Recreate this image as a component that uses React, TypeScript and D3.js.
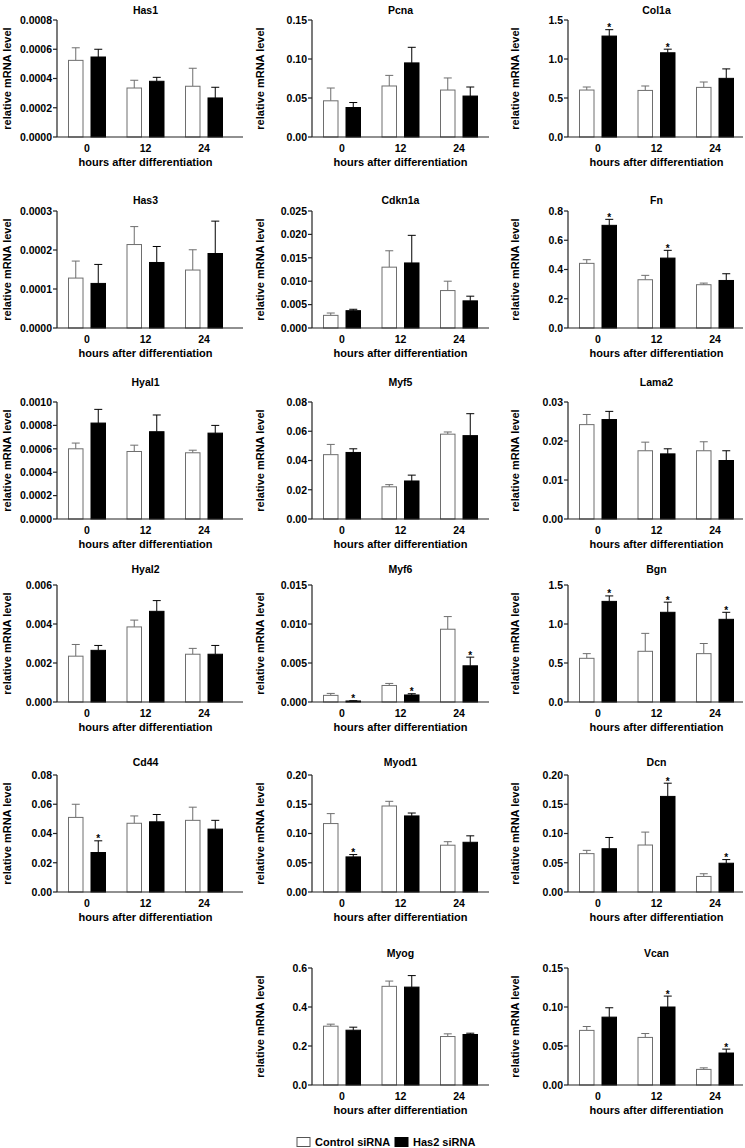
import React from "react";
import * as d3 from "d3";

const timepoints = ["0", "12", "24"];
const genes = ["Has1", "Pcna", "Col1a", "Has3", "Cdkn1a", "Fn", "Hyal1", "Myf5", "Lama2", "Hyal2", "Myf6", "Bgn", "Cd44", "Myod1", "Dcn", "Myog", "Vcan"];
const yMaxes = [0.0008, 0.15, 1.5, 0.0003, 0.025, 0.8, 0.001, 0.08, 0.03, 0.006, 0.015, 1.5, 0.08, 0.2, 0.2, 0.6, 0.15];
const yTickSteps = [0.0002, 0.05, 0.5, 0.0001, 0.005, 0.2, 0.0002, 0.02, 0.01, 0.002, 0.005, 0.5, 0.02, 0.05, 0.05, 0.2, 0.05];
const tickDecimals = [4, 2, 1, 4, 3, 1, 4, 2, 2, 3, 3, 1, 2, 2, 2, 1, 2];

const controlMean = [
  [0.000524, 0.000335, 0.000347],
  [0.0464, 0.0654, 0.0602],
  [0.602, 0.597, 0.636],
  [0.000128, 0.000214, 0.0001486],
  [0.0027, 0.013, 0.008],
  [0.442, 0.33, 0.296],
  [0.0006, 0.000577, 0.000566],
  [0.044, 0.022, 0.058],
  [0.0242, 0.0175, 0.0175],
  [0.00235, 0.00385, 0.00245],
  [0.00085, 0.00212, 0.00933],
  [0.56, 0.65, 0.62],
  [0.051, 0.047, 0.049],
  [0.117, 0.147, 0.08],
  [0.0656, 0.0803, 0.0266],
  [0.3016, 0.506, 0.2486],
  [0.07, 0.061, 0.02],
];
const controlSem = [
  [0.000086, 0.000053, 0.000123],
  [0.0164, 0.0136, 0.0155],
  [0.039, 0.057, 0.069],
  [0.0000436, 0.000046, 0.000052],
  [0.0005, 0.0035, 0.002],
  [0.025, 0.03, 0.011],
  [0.000049, 0.000054, 0.000022],
  [0.007, 0.0015, 0.0015],
  [0.0026, 0.0022, 0.0023],
  [0.0006, 0.00035, 0.0003],
  [0.00025, 0.00026, 0.00162],
  [0.06, 0.23, 0.13],
  [0.009, 0.005, 0.009],
  [0.017, 0.008, 0.006],
  [0.0056, 0.0221, 0.0046],
  [0.0104, 0.027, 0.0138],
  [0.005, 0.005, 0.002],
];
const has2Mean = [
  [0.000547, 0.000381, 0.000267],
  [0.0378, 0.095, 0.0525],
  [1.294, 1.08, 0.752],
  [0.0001143, 0.000168, 0.000191],
  [0.0037, 0.0139, 0.0058],
  [0.702, 0.478, 0.325],
  [0.00082, 0.000746, 0.000734],
  [0.0455, 0.026, 0.057],
  [0.0255, 0.0167, 0.015],
  [0.00265, 0.00465, 0.00245],
  [0.00013, 0.0009, 0.00464],
  [1.29, 1.15, 1.06],
  [0.027, 0.048, 0.043],
  [0.06, 0.13, 0.085],
  [0.074, 0.1634, 0.0492],
  [0.281, 0.502, 0.259],
  [0.087, 0.1, 0.041],
];
const has2Sem = [
  [0.000053, 0.000027, 0.000073],
  [0.0064, 0.02, 0.0116],
  [0.082, 0.046, 0.121],
  [0.0000487, 0.000041, 0.000083],
  [0.0003, 0.0059, 0.001],
  [0.041, 0.053, 0.046],
  [0.000117, 0.000143, 0.000066],
  [0.0025, 0.004, 0.015],
  [0.0021, 0.0013, 0.0025],
  [0.00025, 0.00055, 0.00045],
  [0.00003, 0.00016, 0.00111],
  [0.07, 0.13, 0.09],
  [0.008, 0.005, 0.006],
  [0.004, 0.005, 0.011],
  [0.0192, 0.0226, 0.0062],
  [0.0155, 0.059, 0.0066],
  [0.012, 0.014, 0.005],
];
const significant = [
  [false, false, false],
  [false, false, false],
  [true, true, false],
  [false, false, false],
  [false, false, false],
  [true, true, false],
  [false, false, false],
  [false, false, false],
  [false, false, false],
  [false, false, false],
  [true, true, true],
  [true, true, true],
  [true, false, false],
  [true, false, false],
  [false, true, true],
  [false, false, false],
  [false, true, true],
];
const legendLabels = ["Control siRNA", "Has2 siRNA"];
const xAxisTitle = "hours after differentiation";
const yAxisTitle = "relative mRNA level";

// layout
const W = 745;
const H = 1148;
const panelRow = [0, 0, 0, 1, 1, 1, 2, 2, 2, 3, 3, 3, 4, 4, 4, 5, 5];
const panelCol = [0, 1, 2, 0, 1, 2, 0, 1, 2, 0, 1, 2, 0, 1, 2, 1, 2];
const colAxisX = [57, 312, 568];
const colAxisEnd = [243, 489, 743];
const colLabelX = [7, 260, 515];
const rowTop = [20, 211, 402, 585, 775, 968];
const rowTitleY = [14, 204, 386, 573, 766, 957];
const plotH = 117;
const barW = 14.5;
const barGap = 4;
const FONT = "'Liberation Sans', Arial, Helvetica, sans-serif";
const NARROW = "'Liberation Sans Narrow', 'Arial Narrow', 'Liberation Sans', Arial, sans-serif";

function Panel({ i }: { i: number }) {
  const r = panelRow[i];
  const c = panelCol[i];
  const x0 = colAxisX[c];
  const x1 = colAxisEnd[c];
  const top = rowTop[r];
  const bottom = top + plotH;
  const y = d3.scaleLinear().domain([0, yMaxes[i]]).range([bottom, top]);
  const x = d3.scalePoint<string>().domain(timepoints).range([x0 + 30, x0 + 30 + 117]);
  const fmt = d3.format(`.${tickDecimals[i]}f`);
  const ticks = d3.range(0, yMaxes[i] + yTickSteps[i] / 2, yTickSteps[i]);
  const mid = x(timepoints[1]) as number;

  const series = [
    { mean: controlMean[i], sem: controlSem[i], fill: "#fff", stroke: "#6e6e6e", err: "#6e6e6e", off: -barGap - barW },
    { mean: has2Mean[i], sem: has2Sem[i], fill: "#000", stroke: "#000", err: "#000", off: barGap },
  ];

  return (
    <g>
      <text x={mid} y={rowTitleY[r]} textAnchor="middle" fontFamily={NARROW} fontWeight="bold" fontSize={10.5}>
        {genes[i]}
      </text>
      {series.map((s, si) =>
        timepoints.map((t, ti) => {
          const cx = (x(t) as number) + s.off;
          const yt = y(s.mean[ti]);
          const ye = y(s.mean[ti] + s.sem[ti]);
          const bc = cx + barW / 2;
          return (
            <g key={`${si}-${ti}`}>
              <line x1={bc} x2={bc} y1={yt} y2={ye} stroke={s.err} strokeWidth={1} />
              <line x1={bc - 4} x2={bc + 4} y1={ye} y2={ye} stroke={s.err} strokeWidth={1} />
              <rect x={cx} y={yt} width={barW} height={Math.max(0.5, bottom - yt)} fill={s.fill} stroke={s.stroke} strokeWidth={1} />
              {si === 1 && significant[i][ti] ? (
                <text x={bc} y={ye + 1.5} textAnchor="middle" fontFamily={FONT} fontWeight="bold" fontSize={10}>
                  *
                </text>
              ) : null}
            </g>
          );
        })
      )}
      <line x1={x0} x2={x0} y1={top} y2={bottom} stroke="#222" strokeWidth={1.2} />
      <line x1={x0} x2={x1} y1={bottom} y2={bottom} stroke="#222" strokeWidth={1.2} />
      {ticks.map((v, k) => (
        <g key={k}>
          <line x1={x0 - 4} x2={x0} y1={y(v)} y2={y(v)} stroke="#222" strokeWidth={1.2} />
          <text x={x0 - 5} y={y(v)} dy="0.36em" textAnchor="end" fontFamily={FONT} fontWeight="bold" fontSize={10.5}>
            {fmt(v)}
          </text>
        </g>
      ))}
      {timepoints.map((t) => (
        <text key={t} x={x(t) as number} y={bottom + 15} textAnchor="middle" fontFamily={FONT} fontWeight="bold" fontSize={10.5}>
          {t}
        </text>
      ))}
      <text x={mid} y={bottom + 29} textAnchor="middle" fontFamily={FONT} fontWeight="bold" fontSize={11}>
        {xAxisTitle}
      </text>
      <text
        transform={`translate(${colLabelX[c]},${(top + bottom) / 2}) rotate(-90)`}
        textAnchor="middle"
        dominantBaseline="central"
        fontFamily={FONT}
        fontWeight="bold"
        fontSize={11}
      >
        {yAxisTitle}
      </text>
    </g>
  );
}

export default function App() {
  return (
    <svg width={W} height={H} style={{ position: "absolute", left: 0, top: 0, background: "#fff" }}>
      <rect x={0} y={0} width={W} height={H} fill="#fff" />
      {genes.map((g, i) => (
        <Panel key={g} i={i} />
      ))}
      <g>
        <rect x={297} y={1137.5} width={13} height={9} fill="#fff" stroke="#555" strokeWidth={1} />
        <text x={315} y={1146} fontFamily={FONT} fontWeight="bold" fontSize={11}>
          {legendLabels[0]}
        </text>
        <rect x={395} y={1137.5} width={13} height={9} fill="#000" stroke="#000" strokeWidth={1} />
        <text x={413} y={1146} fontFamily={FONT} fontWeight="bold" fontSize={11}>
          {legendLabels[1]}
        </text>
      </g>
    </svg>
  );
}
